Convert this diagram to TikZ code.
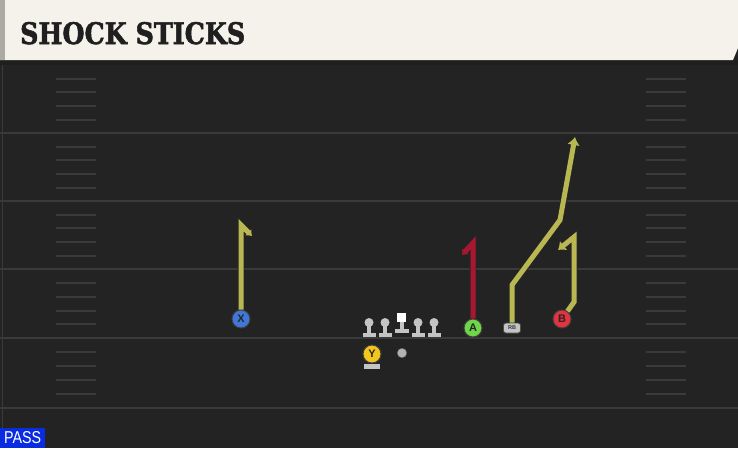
\documentclass[tikz,border=0pt]{standalone}
\usepackage{fontspec}
\setmainfont{Liberation Sans}
\newfontfamily\titlefont{DejaVu Serif}[BoldFeatures={FakeBold=2}]
\usetikzlibrary{arrows.meta}

\definecolor{field}{HTML}{232323}
\definecolor{yardgrey}{HTML}{3A3A3A}
\definecolor{hashgrey}{HTML}{3A3A3A}
\definecolor{header}{HTML}{F4F2EB}
\definecolor{headbar}{HTML}{ABABA3}
\definecolor{routeyel}{HTML}{B8B752}
\definecolor{routered}{HTML}{A8172F}
\definecolor{xblue}{HTML}{3F78D8}
\definecolor{agreen}{HTML}{6FD54A}
\definecolor{bred}{HTML}{E2333F}
\definecolor{yyellow}{HTML}{F2C61C}
\definecolor{piece}{HTML}{C4C4C4}
\definecolor{passblue}{HTML}{0A2CE0}

\begin{document}
\begin{tikzpicture}[x=1pt,y=-1pt,
  yard/.style={draw=yardgrey,line width=2pt},
  hash/.style={draw=hashgrey,line width=1.5pt},
  route/.style={draw=routeyel,line width=5pt,line join=miter,
    preaction={draw=black!85,line width=6.6pt}},
  player/.style={circle,draw=black!75,line width=1pt,minimum size=18pt,
    inner sep=0pt,text=black!85,font=\bfseries\fontsize{11}{11}\selectfont},
  rbbox/.style={rounded corners=2.5pt,fill=piece,draw=black!70,line width=0.8pt,
    minimum width=17pt,minimum height=10pt,inner sep=0pt,
    font=\bfseries\fontsize{5.5}{5.5}\selectfont,text=black!80},
  lineman/.pic={
    \fill[piece] (-6.5,3.5) rectangle (6.5,8);
    \fill[piece] (-2.2,-6) rectangle (2.2,4);
    \fill[piece] (0,-6.5) circle (4.5);
  }]
\useasboundingbox (0,0) rectangle (738,448);

% field
\fill[field] (0,0) rectangle (738,448);
\fill[black!88] (0,60) rectangle (738,65);
\draw[yardgrey,line width=0.8pt] (2,65) -- (2,448);
\foreach \y in {133,201,269,338,408}
  \draw[yard] (0,\y) -- (738,\y);
\foreach \y in {79,92,106,120,147,160,174,188,215,228,242,256,283,297,311,324,352,366,380,394} {
  \draw[hash] (56,\y) -- (96,\y);
  \draw[hash] (646,\y) -- (686,\y);
}

% header
\fill[header] (0,0) -- (738,0) -- (738,48) -- (733,60) -- (0,60) -- cycle;
\fill[headbar] (0,0) rectangle (5,60);
\node[anchor=base west,inner sep=0pt,text=black!88] (title) at (20,44)
  {\resizebox{225pt}{22pt}{\titlefont\bfseries SHOCK STICKS}};

% line
\foreach \x/\nm in {369/lt,385/lg,418/rg,434/rt}
  \pic (\nm) at (\x,329) {lineman};
\fill[piece] (395,328.5) rectangle (409,333);
\fill[piece] (399.5,320) rectangle (404,329);
\node[fill=white,minimum size=9pt,inner sep=0pt] (C) at (401.5,317) {};

% backfield
\fill[piece] (364,364) rectangle (380,368.5);
\node[player,fill=yyellow] (Y) at (372,354) {Y};
\node[circle,fill=gray!60,draw=black!60,minimum size=9.5pt,inner sep=0pt] (QB) at (402,353) {};

% receivers
\node[player,fill=xblue] (X) at (241,319) {X};
\node[player,fill=agreen] (A) at (473,328) {A};
\node[player,fill=bred] (B) at (562,319) {B};
\node[rbbox] (RB) at (512,328) {RB};

% routes
\coordinate (xtop) at (241,225);
\coordinate (xend) at (252,236);
\coordinate (atop) at (473,243);
\coordinate (aend) at (462,255);
\coordinate (rb1) at (512,285);
\coordinate (rb2) at (560,220);
\coordinate (rbend) at (575,137);
\coordinate (b1) at (574,302);
\coordinate (b2) at (574,237);
\coordinate (bend) at (558,250);

\draw[route,-{Latex[length=5pt,width=9pt]}] (X) -- (xtop) -- (xend);
\draw[route,draw=routered,-{Latex[length=5pt,width=9pt]}] (A) -- (atop) -- (aend);
\draw[route,-{Latex[length=8pt,width=13pt]}] (RB) -- (rb1) -- (rb2) -- (rbend);
\draw[route,-{Latex[length=7pt,width=12pt]}] (B) -- (b1) -- (b2) -- (bend);

% play type
\node[fill=passblue,anchor=south west,minimum width=45pt,minimum height=20pt,
  inner sep=0pt,text=white] (pass) at (0,448) {\resizebox{37pt}{12pt}{PASS}};

\end{tikzpicture}
\end{document}
